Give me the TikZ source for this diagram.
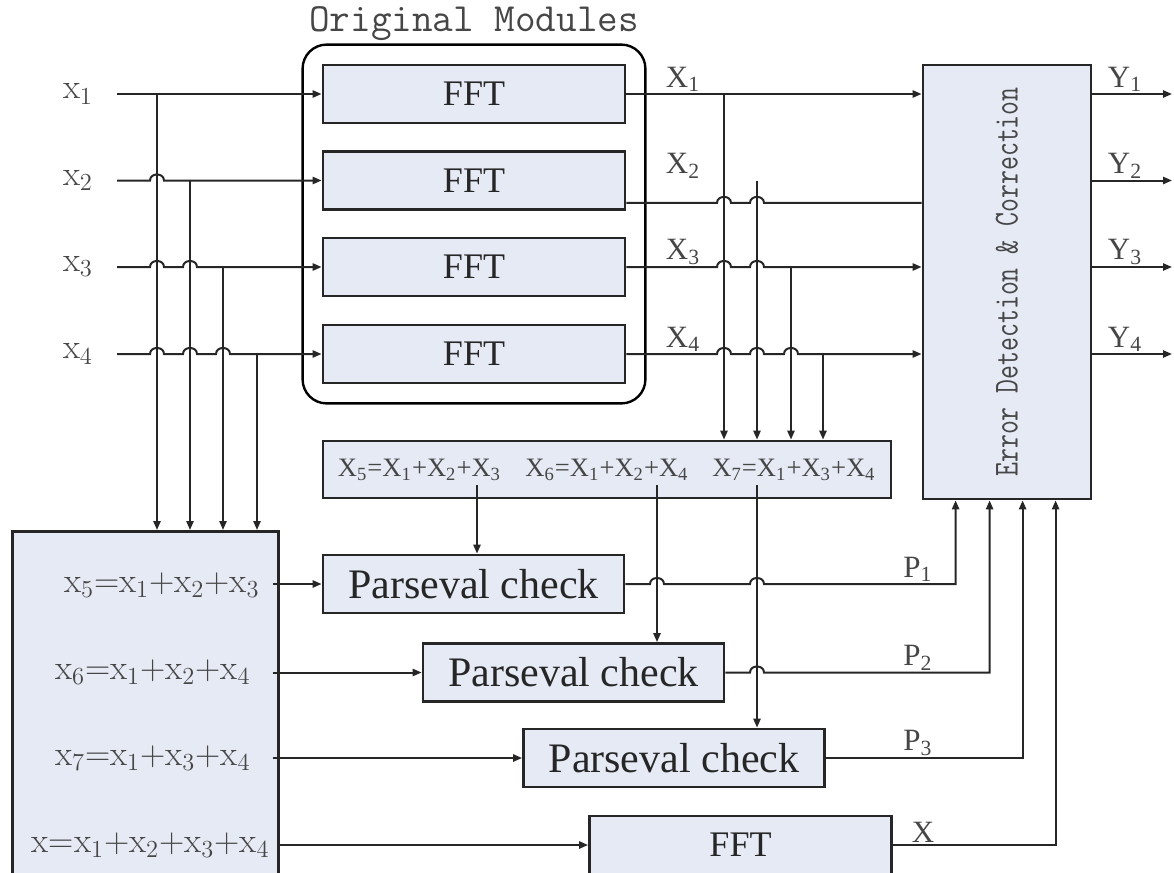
\documentclass[tikz,border=0pt]{standalone}
\usepackage{fontspec}
\newfontfamily\serifT{Liberation Serif}
\usetikzlibrary{positioning,fit,calc,arrows.meta}

\definecolor{boxfill}{RGB}{229,234,245}
\definecolor{lbl}{RGB}{70,70,70}

\tikzset{
  blk/.style={draw=black!85, line width=1.4pt, fill=boxfill, inner sep=0pt},
  fftbox/.style={blk, minimum width=151pt, minimum height=29pt,
    font=\serifT\fontsize{18}{20}\selectfont, text=black!85},
  chkbox/.style={blk, minimum width=150.5pt, minimum height=29pt,
    font=\serifT\fontsize{21}{24}\selectfont, text=black!85},
  wire/.style={line width=1pt, draw=black!85},
  arr/.style={wire, -{Triangle[length=4.5pt,width=3.6pt]}},
  sig/.style={font=\serifT\fontsize{15.5}{17}\selectfont, text=lbl, inner sep=1pt},
  inlbl/.style={font=\fontsize{17.5}{20}\selectfont, text=lbl, inner sep=1pt},
  xsumtxt/.style={font=\serifT\fontsize{13.3}{15}\selectfont, text=lbl, inner sep=0pt},
}
% small bump where a line jumps over a vertical wire
\newcommand{\hop}[1]{-- ($#1+(-7,0)$) .. controls ($#1+(-7,-8)$) and ($#1+(7,-8)$) .. ($#1+(7,0)$)}

\begin{document}
\begin{tikzpicture}[x=0.5pt,y=-0.5pt]
  \useasboundingbox (0,0) rectangle (1174,873);

  % original FFT modules
  \foreach \i/\y in {1/94,2/180.5,3/267,4/354}
    \node[fftbox] (fft\i) at (474,\y) {FFT};
  \node[fit=(fft1)(fft4), draw, line width=1.2pt, rounded corners=12pt, inner sep=9.5pt] (orig) {};
  \node[font=\ttfamily\fontsize{20}{22}\selectfont, text=lbl, anchor=south, inner sep=1pt] (origtitle) at (orig.north) {Original Modules};

  % error detection block
  \node[blk, minimum width=84pt, minimum height=217pt] (edc) at (1007,282) {};
  \node[rotate=90, font=\ttfamily\fontsize{13.5}{15}\selectfont, text=lbl] (edctext) at (edc.center)
    {\scalebox{1}[1.3]{Error Detection \& Correction}};

  % encoder blocks
  \node[blk, minimum width=133pt, minimum height=176pt, anchor=north west] (sums) at (11,530) {};
  \node[inlbl, anchor=east] (ls5) at (262,585) {x\textsubscript{5}=x\textsubscript{1}+x\textsubscript{2}+x\textsubscript{3}};
  \node[inlbl, anchor=east] (ls6) at (253,672) {x\textsubscript{6}=x\textsubscript{1}+x\textsubscript{2}+x\textsubscript{4}};
  \node[inlbl, anchor=east] (ls7) at (253,758) {x\textsubscript{7}=x\textsubscript{1}+x\textsubscript{3}+x\textsubscript{4}};
  \node[inlbl, anchor=east] (lsx) at (272,845) {x=x\textsubscript{1}+x\textsubscript{2}+x\textsubscript{3}+x\textsubscript{4}};

  \node[blk, minimum width=284pt, minimum height=28.5pt] (xsum) at (607,469.5) {};
  \node[xsumtxt] (e5) at (419.5,470) {X\textsubscript{5}=X\textsubscript{1}+X\textsubscript{2}+X\textsubscript{3}};
  \node[xsumtxt] (e6) at (607,470) {X\textsubscript{6}=X\textsubscript{1}+X\textsubscript{2}+X\textsubscript{4}};
  \node[xsumtxt] (e7) at (794,470) {X\textsubscript{7}=X\textsubscript{1}+X\textsubscript{3}+X\textsubscript{4}};

  \node[chkbox] (chk1) at (473.5,584) {Parseval check};
  \node[chkbox] (chk2) at (573.5,672.5) {Parseval check};
  \node[chkbox] (chk3) at (674,758) {Parseval check};
  \node[fftbox] (fftx) at (740.5,845) {FFT};

  % inputs
  \foreach \i/\y/\bx in {1/94/157,2/180.5/190,3/267/223,4/354/257} {
    \node[inlbl] (lx\i) at (78,\y) {x\textsubscript{\i}};
    \coordinate (in\i) at (117,\y);
    \coordinate (b\i) at (\bx,\y);
  }
  \draw[arr] (in1) -- (fft1.west);
  \draw[arr] (in2) \hop{(b1 |- in2)} -- (fft2.west);
  \draw[arr] (in3) \hop{(b1 |- in3)} \hop{(b2 |- in3)} -- (fft3.west);
  \draw[arr] (in4) \hop{(b1 |- in4)} \hop{(b2 |- in4)} \hop{(b3 |- in4)} -- (fft4.west);
  \foreach \i in {1,...,4}
    \draw[arr] (b\i) -- (b\i |- sums.north);

  % FFT outputs
  \foreach \i/\y/\vx in {1/94/724,2/180.5/757,3/267/791,4/354/823}
    \coordinate (v\i) at (\vx,\y);
  \coordinate (o2) at ($(fft2.south east)+(0,-8)$);
  \draw[arr] (fft1.east) -- (fft1.east -| edc.west);
  \draw[wire] (o2) \hop{(v1 |- o2)} \hop{(v2 |- o2)} -- (o2 -| edc.west);
  \draw[arr] (fft3.east) \hop{(v1 |- fft3.east)} \hop{(v2 |- fft3.east)} -- (fft3.east -| edc.west);
  \draw[arr] (fft4.east) \hop{(v1 |- fft4.east)} \hop{(v2 |- fft4.east)} \hop{(v3 |- fft4.east)} -- (fft4.east -| edc.west);
  \foreach \i in {1,...,4}
    \draw[arr] (v\i) -- (v\i |- xsum.north);
  \foreach \i/\y in {1/94,2/180.5,3/267,4/354}
    \node[sig, anchor=south] (lX\i) at (683,\y) {X\textsubscript{\i}};

  % corrected outputs
  \foreach \i/\y in {1/94,2/180.5,3/267,4/354} {
    \coordinate (y\i) at (1172,\y);
    \draw[arr] (y\i -| edc.east) -- (y\i);
    \node[sig, anchor=south] (lY\i) at (1125,\y) {Y\textsubscript{\i}};
  }

  % encoded outputs to the checks
  \coordinate (t5) at (477,485);
  \coordinate (t6) at (657,485);
  \coordinate (t7) at (757,485);
  \draw[arr] (t5) -- (t5 |- chk1.north);
  \draw[arr] (t6) -- (t6 |- chk2.north);
  \draw[arr] (t7) -- (t7 |- chk3.north);

  \draw[arr] ($(sums.east |- chk1.west)+(-7,0)$) -- (chk1.west);
  \draw[arr] ($(sums.east |- chk2.west)+(-7,0)$) -- (chk2.west);
  \draw[arr] ($(sums.east |- chk3.west)+(-7,0)$) -- (chk3.west);
  \draw[arr] (sums.east |- fftx.west) -- (fftx.west);

  % check results
  \foreach \i/\dx in {1/34,2/68,3/101,4/134}
    \coordinate (p\i) at ($(edc.south west)+(\dx,0)$);
  \draw[arr] (chk1.east) \hop{(t6 |- chk1.east)} \hop{(t7 |- chk1.east)} -- (chk1.east -| p1) -- (p1);
  \draw[arr] (chk2.east) \hop{(t7 |- chk2.east)} -- (chk2.east -| p2) -- (p2);
  \draw[arr] (chk3.east) -- (chk3.east -| p3) -- (p3);
  \draw[arr] (fftx.east) -- (fftx.east -| p4) -- (p4);
  \node[sig, anchor=south] (lP1) at (918,584) {P\textsubscript{1}};
  \node[sig, anchor=south] (lP2) at (918,672.5) {P\textsubscript{2}};
  \node[sig, anchor=south] (lP3) at (918,758) {P\textsubscript{3}};
  \node[sig, anchor=south] (lPx) at (923,845) {X};
\end{tikzpicture}
\end{document}
